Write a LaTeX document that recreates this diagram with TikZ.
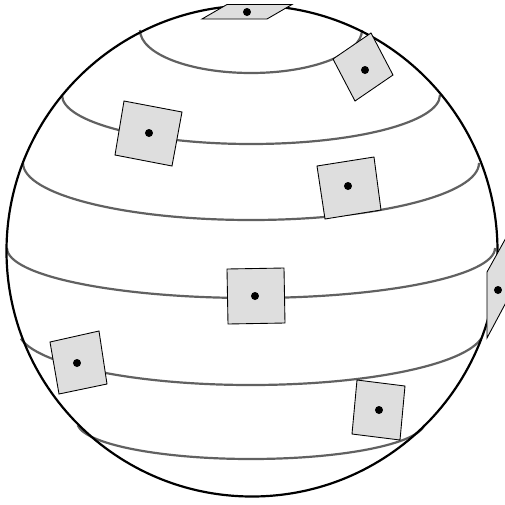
\documentclass[tikz,border=0pt]{standalone}
\tikzset{
  sphere/.style={draw=black,line width=1.25pt},
  parallel/.style={draw=black!62,line width=1.25pt},
  patch/.style={draw=black,fill=black!13,line width=0.5pt},
  centredot/.style={fill=black,draw=none}
}
\newcommand{\lat}[4]{\draw[parallel] (251,#1) ++({-#2*cos(#4)},{#3*sin(#4)}) arc[start angle=180-#4,end angle=#4,x radius=#2,y radius=#3];}
\newcommand{\pat}[9]{\draw[patch] (#1,#2) -- (#3,#4) -- (#5,#6) -- (#7,#8) -- cycle; \fill[centredot] #9 circle (4);}
\begin{document}
\begin{tikzpicture}[x=0.02cm,y=-0.02cm]
\useasboundingbox (0,0) rectangle (505,505);
\clip (0,0) rectangle (505,505);
\lat{30}{111}{43}{0}
\lat{95}{189}{49}{0}
\lat{163}{228}{57}{0}
\lat{248}{244}{50}{0}
\lat{330}{233}{55}{9}
\lat{422}{174}{37}{5}
\draw[sphere] (252,251) circle (245.5);
\pat{227}{4.5}{292}{4.5}{267}{19}{202}{19}{(247,12)}
\pat{371}{33}{393}{75}{355}{101}{333}{59}{(365,70)}
\pat{124}{101}{182}{112}{172}{166}{115}{155}{(149,133)}
\pat{317}{166}{374}{157}{381}{210}{325}{219}{(348,186)}
\pat{227}{269}{284}{268}{285}{323}{228}{324}{(255,296)}
\pat{507}{236}{510}{295}{487}{338}{487}{272}{(498,290)}
\pat{50}{342}{99}{331}{107}{384}{59}{394}{(77,363)}
\pat{357}{380}{405}{386}{400}{440}{352}{434}{(379,410)}
\end{tikzpicture}
\end{document}
